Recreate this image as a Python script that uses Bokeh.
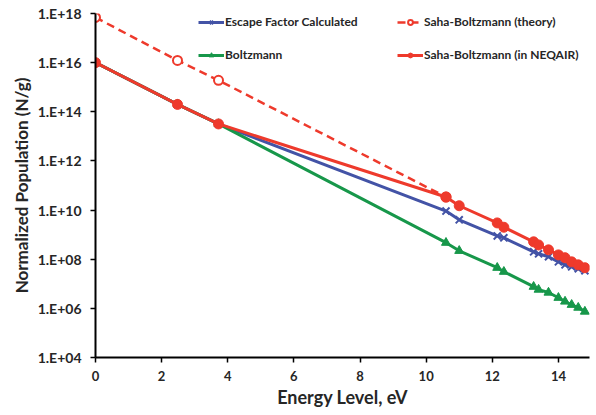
from bokeh.plotting import figure
from bokeh.models import FixedTicker, Legend, LegendItem, Range1d
from bokeh.embed import file_html
from bokeh.resources import INLINE

# ---- data ----
energy = [0.0, 2.48, 3.72, 10.6, 11.0, 12.15, 12.35, 13.25, 13.4, 13.7, 14.0, 14.2, 14.4, 14.6, 14.8]
escape = [1.0e16, 2.0e14, 3.2e13, 9.1e9, 4.0e9, 8.9e8, 7.4e8, 2.0e8, 1.66e8, 1.26e8, 7.8e7, 5.9e7, 4.9e7, 4.1e7, 3.4e7]
boltzmann = [1.0e16, 2.0e14, 3.2e13, 4.7e8, 2.2e8, 4.5e7, 3.1e7, 7.6e6, 5.8e6, 4.4e6, 2.7e6, 1.9e6, 1.4e6, 1.07e6, 7.4e5]
neqair = [1.0e16, 2.0e14, 3.2e13, 3.4e10, 1.5e10, 3.0e9, 2.0e9, 5.1e8, 3.8e8, 2.4e8, 1.5e8, 1.15e8, 7.8e7, 5.9e7, 4.5e7]
theory_energy = [0.0, 2.48, 3.72, 10.6]
theory = [6.9e17, 1.23e16, 1.9e15, 3.4e10]

x_ticks = [0, 2, 4, 6, 8, 10, 12, 14]
y_ticks = [1e4, 1e6, 1e8, 1e10, 1e12, 1e14, 1e16, 1e18]
y_tick_labels = ["1.E+04", "1.E+06", "1.E+08", "1.E+10", "1.E+12", "1.E+14", "1.E+16", "1.E+18"]

BLUE = "#4353A6"
RED = "#EE3A2C"
GREEN = "#17974A"
TXT = "#262626"
FONT = "Lato"

p = figure(width=590, height=410, y_axis_type="log",
           x_range=Range1d(0, 14.94), y_range=Range1d(1e4, 1e18),
           output_backend="svg", toolbar_location=None,
           min_border_left=95, min_border_right=1, min_border_top=13, min_border_bottom=52)
p.outline_line_color = None
p.xgrid.visible = False
p.ygrid.visible = False

# series
b_line = p.line(energy, escape, line_color=BLUE, line_width=3)
b_mark = p.scatter(energy, escape, marker="x", size=10, line_color=BLUE, line_width=2)

t_line = p.line(theory_energy, theory, line_color=RED, line_width=2.5, line_dash="8 5")
t_mark = p.scatter(theory_energy, theory, marker="circle", size=9, line_color=RED, line_width=2, fill_color="white")

g_line = p.line(energy, boltzmann, line_color=GREEN, line_width=3)
g_mark = p.scatter(energy, boltzmann, marker="triangle", size=9, line_color=GREEN, fill_color=GREEN)

r_line = p.line(energy, neqair, line_color=RED, line_width=3)
r_mark = p.scatter(energy, neqair, marker="circle", size=10, line_color=RED, fill_color=RED)

# axes
p.xaxis.ticker = FixedTicker(ticks=x_ticks, minor_ticks=[])
p.yaxis.ticker = FixedTicker(ticks=y_ticks, minor_ticks=[])
p.yaxis.major_label_overrides = {v: l for v, l in zip(y_ticks, y_tick_labels)}
for ax in (p.xaxis[0], p.yaxis[0]):
    ax.axis_line_color = "black"
    ax.axis_line_width = 2
    ax.major_tick_line_color = "black"
    ax.major_tick_line_width = 1.5
    ax.major_tick_out = 5
    ax.major_tick_in = 0
    ax.minor_tick_line_color = None
    ax.major_label_text_font = FONT
    ax.major_label_text_font_style = "bold"
    ax.major_label_text_color = TXT
    ax.axis_label_text_font = FONT
    ax.axis_label_text_font_style = "bold"
    ax.axis_label_text_color = TXT

p.xaxis.axis_label_text_font_size = "18px"
p.yaxis.axis_label_text_font_size = "17px"
p.xaxis.major_label_text_font_size = "13px"
p.yaxis.major_label_text_font_size = "14px"
p.xaxis.major_label_standoff = 8
p.yaxis.major_label_standoff = 9
p.xaxis.axis_label = "Energy Level, eV"
p.yaxis.axis_label = "Normalized Population (N/g)"
p.xaxis.axis_label_standoff = 2
p.yaxis.axis_label_standoff = 3

def make_legend(items, loc):
    leg = Legend(items=items, location=loc)
    leg.background_fill_alpha = 0
    leg.border_line_color = None
    leg.padding = 0
    leg.margin = 0
    leg.spacing = 18
    leg.label_height = 12
    leg.glyph_height = 12
    leg.glyph_width = 26
    leg.label_standoff = 1
    leg.label_text_font = FONT
    leg.label_text_font_style = "bold"
    leg.label_text_font_size = "12px"
    leg.label_text_color = TXT
    return leg

leg1 = make_legend([LegendItem(label="Escape Factor Calculated", renderers=[b_line, b_mark]),
                    LegendItem(label="Boltzmann", renderers=[g_line, g_mark])], (103, 295))
leg2 = make_legend([LegendItem(label="Saha-Boltzmann (theory)", renderers=[t_line, t_mark]),
                    LegendItem(label="Saha-Boltzmann (in NEQAIR)", renderers=[r_line, r_mark])], (302, 295))
p.add_layout(leg1)
p.add_layout(leg2)

open("out.html", "w").write(file_html(p, INLINE))
